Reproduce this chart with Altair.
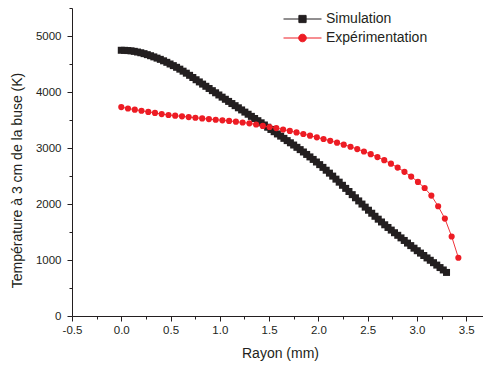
import altair as alt
import pandas as pd

# ---------------- data ----------------
SERIES = ["Simulation", "Expérimentation"]

SIM_R = [0.000, 0.033, 0.066, 0.099, 0.132, 0.165, 0.198, 0.231, 0.264, 0.297,
         0.330, 0.363, 0.396, 0.429, 0.462, 0.495, 0.528, 0.561, 0.594, 0.627,
         0.660, 0.693, 0.726, 0.759, 0.792, 0.825, 0.858, 0.891, 0.924, 0.957,
         0.990, 1.023, 1.056, 1.089, 1.122, 1.155, 1.188, 1.221, 1.254, 1.287,
         1.320, 1.353, 1.386, 1.419, 1.452, 1.485, 1.518, 1.551, 1.584, 1.617,
         1.650, 1.683, 1.716, 1.749, 1.782, 1.815, 1.848, 1.881, 1.914, 1.947,
         1.980, 2.013, 2.046, 2.079, 2.112, 2.145, 2.178, 2.211, 2.244, 2.277,
         2.310, 2.343, 2.376, 2.409, 2.442, 2.475, 2.508, 2.541, 2.574, 2.607,
         2.640, 2.673, 2.706, 2.739, 2.772, 2.805, 2.838, 2.871, 2.904, 2.937,
         2.970, 3.003, 3.036, 3.069, 3.102, 3.135, 3.168, 3.201, 3.234, 3.267,
         3.300]
SIM_T = [4745, 4744, 4740, 4735, 4726, 4714, 4701, 4685, 4667, 4648,
         4627, 4605, 4583, 4557, 4530, 4500, 4471, 4441, 4408, 4372,
         4336, 4298, 4259, 4219, 4180, 4141, 4102, 4063, 4024, 3986,
         3947, 3908, 3870, 3832, 3794, 3756, 3718, 3680, 3641, 3603,
         3565, 3527, 3488, 3450, 3411, 3371, 3331, 3291, 3251, 3212,
         3172, 3132, 3093, 3053, 3012, 2971, 2929, 2885, 2841, 2796,
         2750, 2703, 2654, 2603, 2551, 2498, 2444, 2390, 2334, 2279,
         2223, 2167, 2111, 2055, 1999, 1944, 1889, 1835, 1781, 1729,
         1679, 1629, 1581, 1534, 1487, 1441, 1395, 1349, 1302, 1257,
         1211, 1166, 1123, 1080, 1037, 995, 952, 909, 865, 822,
         778]

EXP_R = [0.000, 0.068, 0.137, 0.205, 0.274, 0.342, 0.410, 0.479, 0.547, 0.616,
         0.684, 0.752, 0.821, 0.889, 0.958, 1.026, 1.094, 1.163, 1.231, 1.300,
         1.368, 1.436, 1.505, 1.573, 1.642, 1.710, 1.778, 1.847, 1.915, 1.984,
         2.052, 2.120, 2.189, 2.257, 2.326, 2.394, 2.462, 2.531, 2.599, 2.668,
         2.736, 2.804, 2.873, 2.941, 3.010, 3.078, 3.146, 3.215, 3.283, 3.352,
         3.420]
EXP_T = [3730, 3705, 3685, 3665, 3645, 3627, 3605, 3590, 3577, 3565,
         3552, 3540, 3528, 3516, 3505, 3494, 3483, 3470, 3456, 3440,
         3420, 3395, 3375, 3355, 3330, 3305, 3278, 3250, 3220, 3190,
         3160, 3128, 3095, 3060, 3022, 2980, 2937, 2890, 2838, 2782,
         2720, 2650, 2575, 2490, 2395, 2285, 2150, 1960, 1740, 1420,
         1040]

X_MAJOR = [-0.5, 0.0, 0.5, 1.0, 1.5, 2.0, 2.5, 3.0, 3.5]
X_MINOR = [-0.25, 0.25, 0.75, 1.25, 1.75, 2.25, 2.75, 3.25]
Y_MAJOR = [0, 1000, 2000, 3000, 4000, 5000]
Y_MINOR = [500, 1500, 2500, 3500, 4500, 5500]

# ---------------- styling ----------------
BLACK = "#231F20"
RED = "#ED1C24"
FONT = "Liberation Sans"

SQ_PATH = "M-1,0L1,0M-0.19,-0.19L0.19,-0.19L0.19,0.19L-0.19,0.19Z"
CI_PATH = "M-1,0L1,0M0.2,0A0.2,0.2,0,1,1,-0.2,0A0.2,0.2,0,1,1,0.2,0Z"

sim = pd.DataFrame({"r": SIM_R, "T": SIM_T, "series": SERIES[0]})
exp = pd.DataFrame({"r": EXP_R, "T": EXP_T, "series": SERIES[1]})
leg = pd.DataFrame({"series": SERIES})

xscale = alt.Scale(domain=[-0.5, 3.67], nice=False, zero=False)
yscale = alt.Scale(domain=[0, 5500], nice=False, zero=False)

major_x = alt.Axis(values=X_MAJOR, format=".1f", title="Rayon (mm)", orient="bottom",
                   labelExpr="datum.value < 0 ? '-' + format(-datum.value, '.1f') : format(datum.value, '.1f')",
                   tickSize=5, labelPadding=3, titleX=208, titleY=37,
                   titleBaseline="middle", labelFlush=False, labelOverlap=False)
minor_x = alt.Axis(values=X_MINOR, labels=False, domain=False, title=None,
                   orient="bottom", tickSize=3)
major_y = alt.Axis(values=Y_MAJOR, format="d", title="Température à 3 cm de la buse (K)",
                   orient="left", tickSize=5, labelPadding=6, titleX=-55, titleY=172,
                   titleBaseline="middle", labelFlush=False, labelOverlap=False)
minor_y = alt.Axis(values=Y_MINOR, labels=False, domain=False, title=None,
                   orient="left", tickSize=3)

sim_line = alt.Chart(sim).mark_line(color=BLACK, strokeWidth=1).encode(
    x=alt.X("r:Q", scale=xscale, axis=major_x),
    y=alt.Y("T:Q", scale=yscale, axis=major_y),
)
sim_pts = alt.Chart(sim).mark_point(shape="square", filled=True, size=49,
                                    color=BLACK, opacity=1).encode(
    x=alt.X("r:Q", scale=xscale, axis=minor_x),
    y=alt.Y("T:Q", scale=yscale, axis=minor_y),
)
exp_line = alt.Chart(exp).mark_line(color=RED, strokeWidth=0.9).encode(
    x=alt.X("r:Q", scale=xscale, axis=None),
    y=alt.Y("T:Q", scale=yscale, axis=None),
)
exp_pts = alt.Chart(exp).mark_point(shape="circle", filled=True, size=38,
                                    color=RED, opacity=1).encode(
    x=alt.X("r:Q", scale=xscale, axis=None),
    y=alt.Y("T:Q", scale=yscale, axis=None),
)

LEG = alt.Legend(title=None, orient="none", legendX=211, legendY=1.5,
                 symbolSize=1444, symbolStrokeWidth=1, labelFont=FONT,
                 labelFontSize=14, labelColor=BLACK, labelOffset=4,
                 clipHeight=19, rowPadding=0, padding=0)

legend_layer = alt.Chart(leg).transform_filter("false").mark_point(
    filled=True, opacity=1, strokeWidth=1).encode(
    shape=alt.Shape("series:N", scale=alt.Scale(domain=SERIES, range=[SQ_PATH, CI_PATH]), legend=LEG),
    fill=alt.Fill("series:N", scale=alt.Scale(domain=SERIES, range=[BLACK, RED]), legend=LEG),
    stroke=alt.Stroke("series:N", scale=alt.Scale(domain=SERIES, range=[BLACK, RED]), legend=LEG),
)

chart = alt.layer(sim_line, sim_pts, exp_line, exp_pts, legend_layer).resolve_axis(
    x="independent", y="independent"
).properties(
    width=411, height=308,
    autosize=alt.AutoSizeParams(type="none"),
    padding={"left": 64, "top": 0, "right": 0, "bottom": 45},
).configure_view(strokeWidth=0).configure_axis(
    grid=False, labelFont=FONT, labelFontSize=11.5, labelColor=BLACK,
    titleFont=FONT, titleFontSize=14, titleFontWeight="normal", titleColor=BLACK,
    domainColor=BLACK, tickColor=BLACK, domainWidth=1, tickWidth=1,
)

chart.save("out.html", embed_options={"renderer": "svg", "actions": False})
